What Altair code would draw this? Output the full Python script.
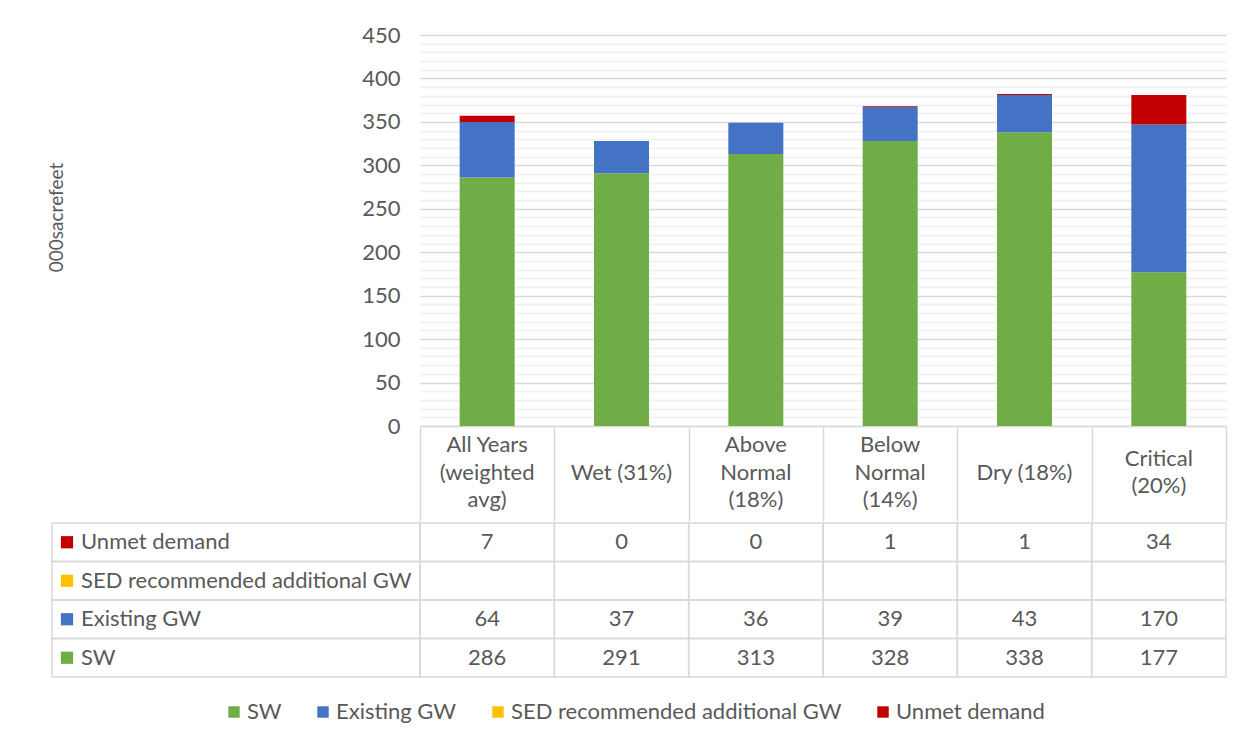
import altair as alt
import pandas as pd

categories = ["All Years (weighted avg)", "Wet (31%)", "Above Normal (18%)",
              "Below Normal (14%)", "Dry (18%)", "Critical (20%)"]
header_lines = [["All Years", "(weighted", "avg)"], ["Wet (31%)"], ["Above", "Normal", "(18%)"],
                ["Below", "Normal", "(14%)"], ["Dry (18%)"], ["Critical", "(20%)"]]
series_names = ["SW", "Existing GW", "SED recommended additional GW", "Unmet demand"]
series_colors = ["#70AD47", "#4472C4", "#FFC000", "#C00000"]
sw = [286, 291, 313, 328, 338, 177]
existing_gw = [64, 37, 36, 39, 43, 170]
sed_additional_gw = [None, None, None, None, None, None]
unmet_demand = [7, 0, 0, 1, 1, 34]
table_rows = ["Unmet demand", "SED recommended additional GW", "Existing GW", "SW"]
y_major = [0, 50, 100, 150, 200, 250, 300, 350, 400, 450]
y_minor = [v for v in range(10, 450, 10) if v % 50 != 0]

FONT = "Lato"
FS = 22
TXT = "#595959"
LINE = "#D9D9D9"
PLOT_W, PLOT_H, HEAD_H, TABLE_H, LABEL_W = 806, 391, 95, 154, 368

records = []
for i, (name, vals) in enumerate(zip(series_names, [sw, existing_gw, sed_additional_gw, unmet_demand])):
    for c, v in zip(categories, vals):
        records.append({"category": c, "series": name, "value": v, "order": i,
                        "label": "" if v is None else str(v)})
df = pd.DataFrame(records)
bars_df = df[df["value"].notna()].copy()
bars_df["value"] = bars_df["value"].astype(float)
rows_df = pd.DataFrame({"series": table_rows, "col": ["label"] * len(table_rows)})

# header text: one row per line, on half-line slots so each block is vertically centred
head_records = []
for cat, lines in zip(categories, header_lines):
    start = 3 - len(lines)
    for k, s in enumerate(lines):
        head_records.append({"category": cat, "line": s, "slot": start + 2 * k})
head_df = pd.DataFrame(head_records)

x_scale = alt.Scale(domain=categories, paddingInner=0, paddingOuter=0)
color_scale = alt.Scale(domain=series_names, range=series_colors)
y_scale = alt.Scale(domain=[0, 450])

# --- bar chart; its category axis draws the header cell lines ---
x_axis = alt.Axis(title=None, orient="bottom", domain=True, domainColor=LINE, domainWidth=1.5,
                  ticks=True, tickBand="extent", tickSize=HEAD_H, tickColor=LINE, tickWidth=1.5,
                  labels=False)
x_enc = alt.X("category:N", scale=x_scale, axis=x_axis, sort=categories)

bars = alt.Chart(bars_df).mark_bar(size=55).encode(
    x=x_enc,
    y=alt.Y("value:Q", stack="zero", scale=y_scale,
            axis=alt.Axis(values=y_major, grid=True, gridColor=LINE, gridWidth=1.5,
                          domain=False, ticks=False, labelPadding=20,
                          labelFont=FONT, labelFontSize=FS, labelColor=TXT,
                          title="000sacrefeet", titleFont=FONT, titleFontSize=19,
                          titleFontWeight="normal", titleColor=TXT,
                          titleX=-364, titleY=182, titleBaseline="middle")),
    color=alt.Color("series:N", scale=color_scale, legend=None),
    order=alt.Order("order:Q"),
)
minor = alt.Chart(bars_df).mark_bar(opacity=0).encode(
    x=x_enc,
    y=alt.Y("value:Q", stack="zero", scale=y_scale,
            axis=alt.Axis(orient="right", values=y_minor, grid=True, gridColor="#F0F0F0",
                          gridWidth=1.5, labels=False, ticks=False, domain=False,
                          title=None)),
)
head_text = alt.Chart(head_df).mark_text(font=FONT, fontSize=FS, color=TXT,
                                         baseline="middle").encode(
    x=x_enc,
    y=alt.Y("slot:O", axis=None,
            scale=alt.Scale(type="point", domain=[0, 1, 2, 3, 4], padding=0,
                            range=[PLOT_H + 19, PLOT_H + 74])),
    text="line:N",
)
bar_chart = alt.layer(minor, bars, head_text).resolve_scale(y="independent").resolve_axis(
    y="independent").properties(width=PLOT_W, height=PLOT_H)

# --- data table ---
y_rows = alt.Scale(domain=table_rows, paddingInner=0, paddingOuter=0)
x_lab = alt.Scale(domain=["label"], range=[-LABEL_W, 0], paddingInner=0, paddingOuter=0)

val_cells = alt.Chart(df).mark_rect(fill="transparent", stroke=LINE, strokeWidth=1.5).encode(
    x=alt.X("category:N", scale=x_scale, axis=None, sort=categories),
    y=alt.Y("series:N", scale=y_rows, axis=None),
)
val_text = alt.Chart(df).mark_text(font=FONT, fontSize=FS, color=TXT, baseline="middle").encode(
    x=alt.X("category:N", scale=x_scale, axis=None, sort=categories),
    y=alt.Y("series:N", scale=y_rows, axis=None),
    text="label:N",
)
lab_cells = alt.Chart(rows_df).mark_rect(fill="transparent", stroke=LINE, strokeWidth=1.5).encode(
    x=alt.X("col:N", scale=x_lab, axis=None),
    y=alt.Y("series:N", scale=y_rows, axis=None),
)
lab_keys = alt.Chart(rows_df).mark_square(size=150, opacity=1, xOffset=-169).encode(
    x=alt.X("col:N", scale=x_lab, axis=None),
    y=alt.Y("series:N", scale=y_rows, axis=None),
    color=alt.Color("series:N", scale=color_scale,
                    legend=alt.Legend(orient="none", legendX=-197, legendY=178,
                                      direction="horizontal", title=None,
                                      symbolType="square", symbolSize=130,
                                      symbolStrokeWidth=0, labelFont=FONT,
                                      labelFontSize=FS, labelColor=TXT,
                                      columnPadding=30, labelOffset=2, labelLimit=0)),
)
lab_text = alt.Chart(rows_df).mark_text(font=FONT, fontSize=FS, color=TXT, align="left",
                                        baseline="middle", dx=-155).encode(
    x=alt.X("col:N", scale=x_lab, axis=None),
    y=alt.Y("series:N", scale=y_rows, axis=None),
    text="series:N",
)
table = alt.layer(val_cells, val_text, lab_cells, lab_keys, lab_text).resolve_scale(
    x="independent").properties(width=PLOT_W, height=TABLE_H)

chart = alt.vconcat(bar_chart, table, spacing=0).resolve_scale(
    color="independent"
).properties(
    padding={"left": 39, "top": 16, "right": 5, "bottom": 5},
    background="white",
).configure_view(strokeWidth=0)

chart.save("out.html", embed_options={"renderer": "svg", "actions": False})
